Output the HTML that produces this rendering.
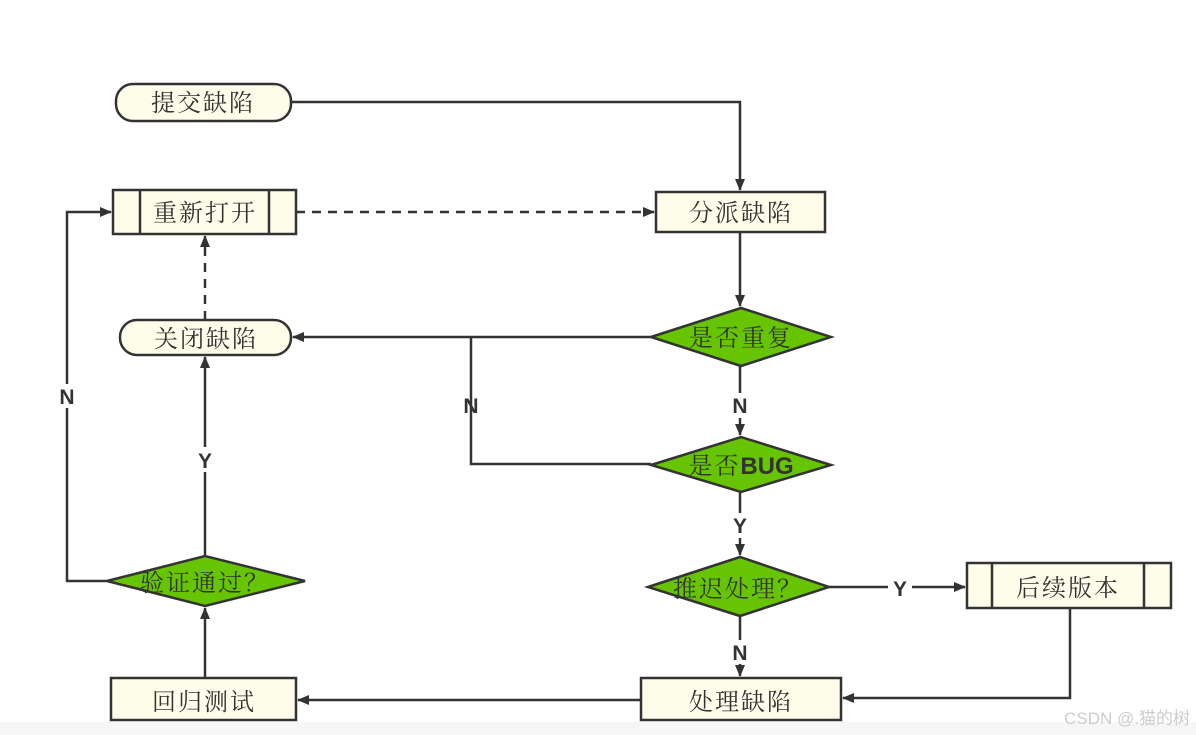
<!DOCTYPE html>
<html><head><meta charset="utf-8"><style>
html,body{margin:0;padding:0;background:#fff;}
svg{display:block;}
.t{font-family:"Liberation Serif","Noto Serif CJK SC",serif;font-size:24px;fill:#333;letter-spacing:2px;}
.l{font-family:"Liberation Sans",sans-serif;font-weight:bold;font-size:21px;fill:#333;}
</style></head><body>
<svg width="1196" height="735" viewBox="0 0 1196 735" xmlns="http://www.w3.org/2000/svg">
<defs>
<marker id="a" markerWidth="12" markerHeight="10" refX="11" refY="5" orient="auto" markerUnits="userSpaceOnUse">
<path d="M0,0 L12,5 L0,10 Z" fill="#333"/></marker>
</defs>
<rect x="0" y="722" width="1196" height="13" fill="#f6f6f6"/>
<g stroke="#333" stroke-width="2.5" fill="none">
<!-- connectors -->
<polyline points="291,102 740,102 740,190" marker-end="url(#a)"/>
<line x1="296" y1="212" x2="654" y2="212" stroke-dasharray="9,7" marker-end="url(#a)"/>
<line x1="205" y1="320" x2="205" y2="236" stroke-dasharray="9,7" marker-end="url(#a)"/>
<polyline points="740,232 740,306" marker-end="url(#a)"/>
<line x1="651" y1="337" x2="293" y2="337" marker-end="url(#a)"/>
<polyline points="651,464 471,464 471,337"/>
<line x1="740" y1="366" x2="740" y2="393"/>
<line x1="740" y1="418" x2="740" y2="435" marker-end="url(#a)"/>
<line x1="740" y1="492" x2="740" y2="513"/>
<line x1="740" y1="538" x2="740" y2="555" marker-end="url(#a)"/>
<line x1="829" y1="587" x2="888" y2="587"/>
<line x1="912" y1="587" x2="965" y2="587" marker-end="url(#a)"/>
<line x1="740" y1="616" x2="740" y2="640"/>
<line x1="740" y1="664" x2="740" y2="676" marker-end="url(#a)"/>
<polyline points="1070,608 1070,698 843,698" marker-end="url(#a)"/>
<line x1="641" y1="700" x2="298" y2="700" marker-end="url(#a)"/>
<line x1="205" y1="678" x2="205" y2="608" marker-end="url(#a)"/>
<line x1="205" y1="556" x2="205" y2="472"/>
<line x1="205" y1="447" x2="205" y2="357" marker-end="url(#a)"/>
<polyline points="107,581 67,581 67,408"/>
<polyline points="67,384 67,212 111,212" marker-end="url(#a)"/>
</g>
<g stroke="#333" stroke-width="2.5" fill="#fdfdea">
<rect x="116" y="84" width="175" height="37" rx="17"/>
<rect x="120" y="320" width="171" height="35" rx="17"/>
<rect x="113" y="190" width="183" height="44"/>
<line x1="140" y1="190" x2="140" y2="234"/><line x1="269" y1="190" x2="269" y2="234"/>
<rect x="656" y="192" width="169" height="40"/>
<rect x="967" y="563" width="204" height="45"/>
<line x1="992" y1="563" x2="992" y2="608"/><line x1="1144" y1="563" x2="1144" y2="608"/>
<rect x="641" y="678" width="200" height="42"/>
<rect x="111" y="678" width="185" height="42"/>
</g>
<g stroke="#333" stroke-width="2.5" fill="#66c400">
<polygon points="651,337 741,308 831,337 741,366"/>
<polygon points="651,465 741,437 831,465 741,492"/>
<polygon points="648,587 740,557 829,587 740,616"/>
<polygon points="107,581 205,556 305,581 205,606"/>
</g>
<g class="t" text-anchor="middle">
<text x="203" y="111">提交缺陷</text>
<text x="205" y="221">重新打开</text>
<text x="741" y="221">分派缺陷</text>
<text x="206" y="347">关闭缺陷</text>
<text x="741" y="346">是否重复</text>
<text x="741" y="474">是否<tspan style="font-family:'Liberation Sans',sans-serif;font-weight:bold;letter-spacing:0">BUG</tspan></text>
<text x="738" y="597">推迟处理？</text>
<text x="1068" y="596">后续版本</text>
<text x="741" y="710">处理缺陷</text>
<text x="204" y="710">回归测试</text>
<text x="205" y="591">验证通过？</text>
</g>
<g class="l" text-anchor="middle">
<text x="740" y="413">N</text>
<text x="471" y="413">N</text>
<text x="740" y="533">Y</text>
<text x="900" y="596">Y</text>
<text x="740" y="660">N</text>
<text x="205" y="468">Y</text>
<text x="67" y="404">N</text>
</g>
<text x="1190" y="724" text-anchor="end" style="font-family:'Liberation Sans','Noto Sans CJK SC',sans-serif;font-size:17px;fill:#ccc;">CSDN @.猫的树</text>
</svg>
</body></html>
